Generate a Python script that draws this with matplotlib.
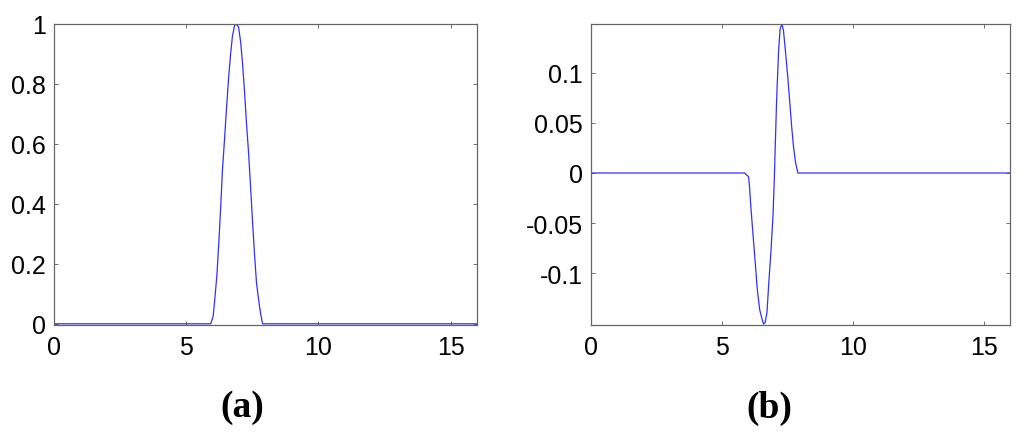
import numpy as np
import matplotlib.pyplot as plt

plt.rcParams['font.family'] = ['Liberation Sans', 'DejaVu Sans']
plt.rcParams['axes.unicode_minus'] = False

# (a) pulse, values
x_a = [0, 5.93, 6.02, 6.08, 6.16, 6.24, 6.30, 6.37, 6.45, 6.53, 6.60, 6.68, 6.75,
       6.83, 6.89, 6.98, 7.06, 7.13, 7.21, 7.28, 7.36, 7.44, 7.51, 7.59, 7.66,
       7.74, 7.81, 7.89, 16]
y_a = [0, 0, 0.025, 0.08, 0.16, 0.28, 0.38, 0.51, 0.615, 0.725, 0.815, 0.9, 0.96,
       0.995, 1.0, 0.99, 0.94, 0.87, 0.77, 0.67, 0.57, 0.45, 0.34, 0.225, 0.136,
       0.08, 0.036, 0, 0]

# (b) derivative-like wavelet
x_b = [0, 5.87, 6.02, 6.06, 6.11, 6.18, 6.27, 6.35, 6.44, 6.53, 6.59, 6.65, 6.72,
       6.79, 6.87, 6.95, 7.00, 7.04, 7.09, 7.16, 7.22, 7.29, 7.35, 7.43, 7.51,
       7.58, 7.66, 7.73, 7.81, 7.90, 16]
y_b = [0, 0, -0.004, -0.016, -0.036, -0.059, -0.089, -0.116, -0.136, -0.1455,
       -0.1505, -0.149, -0.139, -0.109, -0.079, -0.0425, -0.006, 0.0306, 0.074,
       0.12, 0.1435, 0.1485, 0.142, 0.12, 0.097, 0.074, 0.047, 0.027, 0.0106, 0, 0]

yticks_a = [0, 0.2, 0.4, 0.6, 0.8, 1]
yticklabels_a = ['0', '0.2', '0.4', '0.6', '0.8', '1']
yticks_b = [-0.1, -0.05, 0, 0.05, 0.1]
yticklabels_b = ['-0.1', '-0.05', '0', '0.05', '0.1']
xticks = [0, 5, 10, 15]

fig = plt.figure(figsize=(10.24, 4.35), dpi=100)
ax1 = fig.add_axes([54 / 1024, 1 - 326 / 435, 423 / 1024, 301 / 435])
ax2 = fig.add_axes([591 / 1024, 1 - 326 / 435, 419 / 1024, 301 / 435])

line_color = '#3030ff'

ax1.plot(x_a, y_a, color=line_color, lw=0.9)
ax1.set_xlim(0, 16)
ax1.set_ylim(-0.004, 1.0)
ax1.set_yticks(yticks_a)
ax1.set_yticklabels(yticklabels_a)

ax2.plot(x_b, y_b, color=line_color, lw=0.9)
ax2.set_xlim(0, 16)
ax2.set_ylim(-0.1515, 0.1485)
ax2.set_yticks(yticks_b)
ax2.set_yticklabels(yticklabels_b)

for ax in (ax1, ax2):
    ax.set_xticks(xticks)
    ax.tick_params(direction='in', length=3, width=0.6, top=True, right=True,
                   labelsize=18, color='#555555')
    ax.tick_params(axis='x', pad=7)
    ax.tick_params(axis='y', pad=6)
    for s in ax.spines.values():
        s.set_color('#666666')
        s.set_linewidth(0.9)

fig.text(242 / 1024, 1 - 408 / 435, '(a)', ha='center', va='center',
         fontsize=27, fontweight='bold', family='Liberation Serif')
fig.text(769 / 1024, 1 - 408 / 435, '(b)', ha='center', va='center',
         fontsize=27, fontweight='bold', family='Liberation Serif')

fig.savefig('out.png', dpi=100)
